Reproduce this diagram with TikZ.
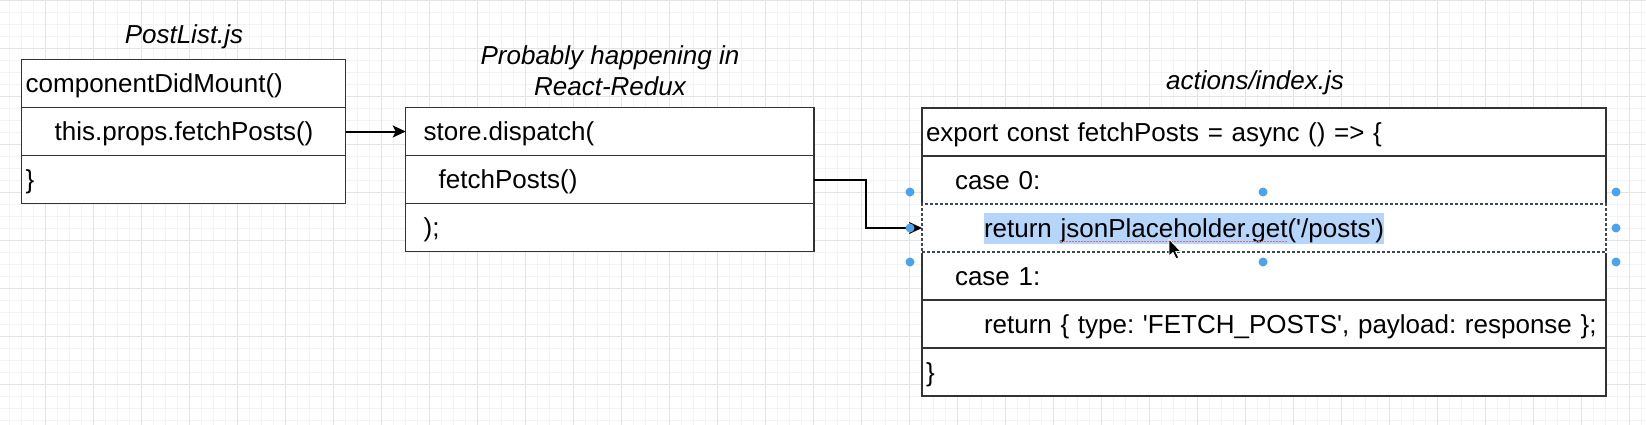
\documentclass[tikz,border=0pt]{standalone}
\usepackage{fontspec}
\setmainfont{Liberation Sans}
\usetikzlibrary{arrows.meta}

\definecolor{boxline}{HTML}{333333}
\definecolor{gridminor}{HTML}{F3F3F3}
\definecolor{gridmajor}{HTML}{E4E4E4}
\definecolor{hilite}{HTML}{B5D5FB}
\definecolor{handleblue}{HTML}{4AA3EC}
\definecolor{selline}{HTML}{3C4856}
\definecolor{spellred}{HTML}{E07070}
\setlength{\fboxsep}{0pt}
\frenchspacing

\begin{document}
\begin{tikzpicture}[x=1pt,y=-1pt,
  rowbox/.style={draw=boxline,line width=1.3pt,fill=white,anchor=north west,
    minimum height=48pt,inner xsep=4pt,inner ysep=0pt,outer sep=0pt,
    text height=18.6pt,text depth=0pt,align=left,font=\fontsize{26}{31}\selectfont},
  titletext/.style={font=\fontsize{26}{30.7}\selectfont\itshape,anchor=base,inner sep=0pt,align=center},
  selhandle/.style={circle,fill=handleblue,inner sep=0pt,minimum size=9pt},
  flow/.style={line width=2pt,-{Stealth[length=13pt,width=12pt,inset=3pt]}}]
\useasboundingbox (0,0) rectangle (1646,424);

% grid
\begin{scope}
\clip (0,0) rectangle (1646,424);
\begin{scope}[xshift=-2.3pt]
\draw[gridminor,line width=0.8pt,step=12pt] (-24,448) grid (1680,-24);
\draw[gridmajor,line width=0.8pt,step=48pt] (-48,472) grid (1690,-48);
\end{scope}
\end{scope}

% PostList.js
\node[titletext] (plname) at (184,43) {PostList.js};
\node[rowbox,text width=316pt] (pl1) at (21.7,59.5) {componentDidMount()};
\node[rowbox,text width=316pt] (pl2) at (21.7,107.5) {\hspace*{29pt}this.props.fetchPosts()};
\node[rowbox,text width=316pt] (pl3) at (21.7,155.5) {\}};

% React-Redux
\node[titletext] (rrname) at (610,95) {Probably happening in\\React-Redux};
\node[rowbox,text width=400.3pt] (rr1) at (405.7,107.5) {\hspace*{14pt}store.dispatch(};
\node[rowbox,text width=400.3pt] (rr2) at (405.7,155.5) {\hspace*{29pt}fetchPosts()};
\node[rowbox,text width=400.3pt] (rr3) at (405.7,203.5) {\hspace*{14pt});};

% actions/index.js
\node[titletext] (acname) at (1255,89) {actions/index.js};
\node[rowbox,text width=676pt] (ac1) at (922,108) {export const fetchPosts = async () => \{};
\node[rowbox,text width=676pt] (ac2) at (922,156) {\hspace*{29pt}case 0:};
\node[rowbox,text width=676pt] (ac4) at (922,252) {\hspace*{29pt}case 1:};
\node[rowbox,text width=676pt] (ac5) at (922,300) {\hspace*{58pt}return \{ type: \textquotesingle FETCH\_POSTS\textquotesingle, payload: response \};};
\node[rowbox,text width=676pt] (ac6) at (922,348) {\}};
\node[rowbox,text width=676pt,draw=selline,line width=1.1pt,dash pattern=on 3pt off 2pt,
  preaction={draw=white,fill=white,solid,line width=1.8pt}] (ac3) at (922,204)
  {\hspace*{58pt}\colorbox{hilite}{\rule[-6.3pt]{0pt}{30.6pt}return jsonPlaceholder.get(\textquotesingle/posts\textquotesingle)}};
\draw[spellred,line width=1.2pt,dash pattern=on 1.5pt off 1.5pt] (1060,241.5) -- (1288,241.5);

% connectors
\coordinate (bend) at (866,179.5);
\draw[flow] (pl2.east) -- (rr1.west);
\draw[flow] (rr2.east) -- (bend) |- (ac3.west);

% selection handles
\node[selhandle] (h1) at (910,192) {};
\node[selhandle] (h2) at (1263,192) {};
\node[selhandle] (h3) at (1616,192) {};
\node[selhandle] (h4) at (910,228) {};
\node[selhandle] (h5) at (1616,228) {};
\node[selhandle] (h6) at (910,262) {};
\node[selhandle] (h7) at (1263,262) {};
\node[selhandle] (h8) at (1616,262) {};

% cursor
\fill[black,draw=white,line width=0.8pt,line join=round] (1169,239) -- ++(0,17) -- ++(4,-3.5)
  -- ++(3.2,6.5) -- ++(2.6,-1.2) -- ++(-3.2,-6.3) -- ++(5.2,0) -- cycle;
\end{tikzpicture}
\end{document}
